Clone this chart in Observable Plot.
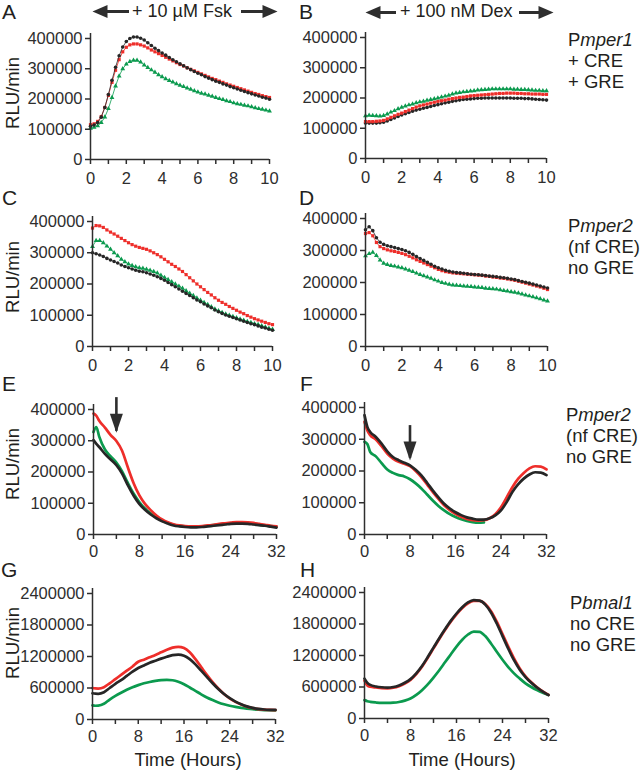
<!DOCTYPE html>
<html><head><meta charset="utf-8">
<script src="https://cdn.jsdelivr.net/npm/d3@7"></script>
<script src="https://cdn.jsdelivr.net/npm/@observablehq/plot@0.6"></script>
<style>
body{margin:0;background:#fff;}
#fig{position:relative;width:640px;height:770px;overflow:hidden;font-family:"Liberation Sans",Arial,Helvetica,sans-serif;color:#231f20;background:#fff;}
.t{position:absolute;white-space:nowrap;line-height:1;z-index:2;}
</style></head><body><div id="fig"></div>
<script>
// ---------- time axes (hours) ----------
const tShort = [0,0.2,0.4,0.6,0.8,1,1.2,1.4,1.6,1.8,2,2.2,2.4,2.6,2.8,3,3.2,3.4,3.6,3.8,4,4.2,4.4,4.6,4.8,5,5.2,5.4,5.6,5.8,6,6.2,6.4,6.6,6.8,7,7.2,7.4,7.6,7.8,8,8.2,8.4,8.6,8.8,9,9.2,9.4,9.6,9.8,10];
const tLong = [0,0.5,1,2,3,4,5,6,7,8,9,10,11,12,13,14,15,16,17,18,19,20,21,22,23,24,25,26,27,28,29,30,31,32];

// ---------- tick values ----------
const xTicks10 = [0,1,2,3,4,5,6,7,8,9,10];
const xTicks32 = [0,4,8,12,16,20,24,28,32];
const yTicks400k = [0,100000,200000,300000,400000];
const yTicks2400k = [0,600000,1200000,1800000,2400000];

// ---------- series values (thousand RLU/min) ----------
// Panel A: Pmper1, + Fsk
const A_black = [110,114,122,140,172,215,262,305,343,372,390,400,405,405,401,395,386,377,368,360,352,345,337,330,323,316,310,303,297,291,285,280,274,269,264,259,255,250,246,241,237,233,229,225,221,217,213,210,206,203,199];
const A_red   = [115,118,126,142,172,212,255,295,330,356,371,379,382,382,379,375,369,362,356,350,344,338,332,326,320,314,309,303,298,293,288,283,278,273,268,264,259,255,250,246,242,238,234,230,226,222,218,215,211,208,205];
const A_green = [103,106,111,122,140,168,205,243,276,300,315,324,328,328,322,312,304,296,288,280,273,267,261,256,250,245,241,236,232,227,223,219,216,212,209,205,201,198,194,191,187,184,182,179,177,174,171,168,166,163,160];
// Panel B: Pmper1, + Dex
const B_black = [117,117,117,117,118,120,124,129,134,139,144,148,152,156,160,163,166,169,172,175,178,181,184,186,189,191,193,195,196,197,198,199,199,200,200,200,200,200,200,200,200,199,199,199,198,198,197,196,195,194,193];
const B_red   = [122,122,122,123,124,126,131,136,141,146,150,155,160,165,170,174,177,180,183,186,189,191,193,196,198,200,202,203,205,207,208,209,210,211,212,213,214,215,215,216,216,216,215,215,214,214,213,213,213,212,212];
const B_green = [141,143,142,141,140,142,147,153,158,164,169,173,177,180,184,187,189,192,195,197,200,203,206,209,213,216,218,220,221,223,224,226,227,228,229,230,230,230,230,230,230,229,229,228,228,227,226,225,225,224,224];
// Panel C: Pmper2, + Fsk
const C_black = [300,297,293,288,282,277,272,267,261,256,252,248,244,241,239,236,232,228,223,218,212,205,198,191,184,177,170,163,156,149,143,136,130,124,117,111,106,101,97,93,89,85,81,77,73,70,66,62,59,55,52];
const C_red   = [379,387,386,381,373,366,360,353,346,339,332,326,321,317,314,311,306,300,294,287,279,271,263,256,248,240,230,220,210,200,191,182,173,165,156,148,141,135,128,122,116,110,105,99,94,89,85,81,77,73,70];
const C_green = [320,339,339,332,321,311,300,290,279,271,264,259,255,252,250,247,244,240,235,228,221,214,207,200,193,186,178,170,163,155,148,141,134,127,120,114,109,104,100,96,92,88,84,80,77,73,70,66,62,58,55];
// Panel D: Pmper2, + Dex
const D_black = [365,374,362,340,326,319,315,312,309,306,303,299,294,288,281,275,269,263,257,251,246,242,238,235,233,231,230,229,227,226,225,224,223,222,220,219,218,216,215,213,211,209,206,203,201,198,195,192,189,186,183];
const D_red   = [353,356,346,325,312,306,302,299,297,294,291,287,282,277,271,266,261,256,251,246,241,237,234,232,230,229,228,227,226,225,224,223,222,220,219,217,216,214,213,211,209,207,204,201,198,195,192,189,186,182,178];
const D_green = [283,290,294,284,270,260,256,253,251,248,246,242,238,234,229,225,221,217,213,208,204,200,197,194,192,191,190,189,188,187,186,185,184,182,181,180,179,177,175,173,171,169,167,164,161,158,155,152,149,145,142];
// Panel E: Pmper2, + Fsk, 32 h
const E_black = [302,290,280,258,240,222,195,158,125,98,79,64,52,42,35,29,26,24,23,23,24,26,28,30,32,34,35,35,34,32,30,28,25,22];
const E_red   = [387,380,364,342,318,299,268,215,165,126,98,78,61,48,39,33,29,27,26,26,27,29,31,34,36,38,40,40,39,37,34,31,28,26];
const E_green = [328,344,313,272,250,230,202,165,131,104,83,68,56,45,37,31,28,26,25,25,26,28,30,32,34,36,37,37,36,34,31,29,27,25];
// Panel F: Pmper2, + Dex, 32 h
const F_black = [376,339,323,307,286,262,244,234,226,218,204,186,163,139,117,97,82,70,61,54,50,47,47,51,60,76,102,134,158,176,189,196,195,187];
const F_red   = [355,328,313,299,278,255,239,229,223,215,200,181,158,134,112,92,77,65,56,49,45,44,45,51,64,86,117,149,175,194,208,215,214,205];
const F_green = [292,285,260,246,225,205,194,187,183,174,161,145,126,107,90,76,64,55,48,43,39,37,38];
// Panel G: Pbmal1, + Fsk
const G_black = [500,492,490,520,600,680,750,830,910,980,1030,1080,1120,1160,1195,1225,1235,1215,1150,1050,930,810,690,580,485,405,340,290,250,222,202,190,184,182];
const G_red   = [600,592,590,615,690,770,850,930,1010,1100,1140,1185,1230,1280,1330,1370,1385,1360,1280,1150,1000,850,710,590,485,400,335,285,245,218,198,187,182,180];
const G_green = [270,262,265,300,380,450,510,565,615,655,690,715,735,750,755,748,720,672,610,545,480,420,370,325,290,262,240,222,208,196,187,180,176,175];
// Panel H: Pbmal1, + Dex
const H_black = [760,680,640,610,595,590,600,630,680,750,860,1000,1170,1350,1530,1700,1860,2000,2120,2210,2255,2245,2170,2020,1810,1570,1330,1110,930,790,680,590,510,445];
const H_red   = [720,630,605,590,578,575,585,615,665,735,845,985,1155,1335,1515,1685,1845,1985,2105,2195,2240,2240,2180,2045,1845,1610,1370,1145,955,805,690,595,515,450];
const H_green = [350,330,318,305,298,298,302,315,340,380,450,540,650,780,920,1070,1220,1370,1500,1600,1655,1650,1570,1430,1270,1120,980,860,760,670,600,540,490,450];

// ---------- text ----------
const panelLetters = ["A","B","C","D","E","F","G","H"];
const treatments = ["+ 10 \u00B5M Fsk", "+ 100 nM Dex"];
const rowLabels = [
  ["P<i>mper1</i>", "+ CRE", "+ GRE"],
  ["P<i>mper2</i>", "(nf CRE)", "no GRE"],
  ["P<i>mper2</i>", "(nf CRE)", "no GRE"],
  ["P<i>bmal1</i>", "no CRE", "no GRE"]
];
const yLabel = "RLU/min";
const xLabel = "Time (Hours)";
// annotation arrows (hour, top value, tip value)
const arrowE = [{x: 4, y1: 438000, y2: 330000, tip: 326000}];
const arrowF = [{x: 8, y1: 343000, y2: 240000, tip: 233000}];

// ---------- styling ----------
const fig = document.getElementById("fig");
const FONT = '"Liberation Sans", Arial, Helvetica, sans-serif';
const AX = "#2e2e2e";
const TICKFS = 16.5;
const COL = {green: "#0b9a4e", red: "#ee2e2a", black: "#262626"};
const SYM = {green: "triangle", red: "square", black: "circle"};
const headDown = {draw(c){c.moveTo(0,0);c.lineTo(-6.5,-19);c.lineTo(6.5,-19);c.closePath();}};
const headLeft = {draw(c){c.moveTo(0,0);c.lineTo(15,-6.5);c.lineTo(15,6.5);c.closePath();}};
const headRight = {draw(c){c.moveTo(0,0);c.lineTo(-15,-6.5);c.lineTo(-15,6.5);c.closePath();}};

function rows(t, v) { return v.map((val, i) => ({t: t[i], v: val * 1000})); }

function panel(p) {
  const ext = 5;
  const yTop = p.yTicks[p.yTicks.length - 1];
  const yMaxExt = yTop * (p.py0 - p.pyTop + ext) / (p.py0 - p.pyTop);
  const xMax = p.xTicks[p.xTicks.length - 1];
  const marks = [];
  for (const s of p.series) {
    const d = rows(s.t, s.v), c = COL[s.c];
    if (p.dotted) {
      marks.push(Plot.line(d, {x: "t", y: "v", stroke: c, strokeWidth: 0.8}));
      marks.push(Plot.dot(d, {x: "t", y: "v", symbol: SYM[s.c], r: 1.8, fill: c, stroke: "none"}));
    } else {
      marks.push(Plot.line(d, {x: "t", y: "v", stroke: c, strokeWidth: 2.7, curve: "monotone-x"}));
    }
  }
  marks.push(Plot.ruleY([0], {x1: 0, x2: xMax, stroke: AX, strokeWidth: 1.5}));
  marks.push(Plot.ruleX([0], {y1: 0, y2: yMaxExt, stroke: AX, strokeWidth: 1.5}));
  marks.push(Plot.axisX({ticks: p.xTicks, tickSize: 5, tickPadding: p.padX, tickFormat: d => (d % p.xLab === 0 ? String(d) : ""), fontSize: TICKFS, label: null, color: AX, strokeWidth: 1.5}));
  marks.push(Plot.axisY({ticks: p.yTicks, tickSize: 5, tickPadding: 3, tickFormat: d => String(d), fontSize: TICKFS, label: null, color: AX, strokeWidth: 1.5}));
  if (p.arrow) {
    marks.push(Plot.ruleX(p.arrow, {x: "x", y1: "y1", y2: "y2", stroke: AX, strokeWidth: 2.6}));
    marks.push(Plot.dot(p.arrow, {x: "x", y: "tip", symbol: headDown, r: 5, fill: AX, stroke: "none"}));
  }
  const svg = Plot.plot({
    width: p.w, height: p.h,
    marginLeft: p.px0 - p.left, marginRight: p.left + p.w - p.px1,
    marginTop: p.pyTop - ext - p.top, marginBottom: p.top + p.h - p.py0,
    x: {domain: [0, xMax]}, y: {domain: [0, yMaxExt]},
    style: {background: "transparent", fontFamily: FONT, fontSize: TICKFS + "px", color: "#231f20", overflow: "visible"},
    marks
  });
  svg.style.position = "absolute";
  svg.style.left = p.left + "px";
  svg.style.top = p.top + "px";
  fig.appendChild(svg);
}

const S = (c, t, v) => ({c, t, v});
panel({left: 0, top: 25, w: 290, h: 170, px0: 90, px1: 269, py0: 159, pyTop: 38, xTicks: xTicks10, xLab: 2, padX: 8, yTicks: yTicks400k, dotted: true,
  series: [S("green", tShort, A_green), S("red", tShort, A_red), S("black", tShort, A_black)]});
panel({left: 295, top: 25, w: 265, h: 170, px0: 365, px1: 546, py0: 158, pyTop: 37, xTicks: xTicks10, xLab: 2, padX: 8, yTicks: yTicks400k, dotted: true,
  series: [S("black", tShort, B_black), S("red", tShort, B_red), S("green", tShort, B_green)]});
panel({left: 0, top: 210, w: 290, h: 170, px0: 92, px1: 272, py0: 346, pyTop: 221, xTicks: xTicks10, xLab: 2, padX: 8, yTicks: yTicks400k, dotted: true,
  series: [S("green", tShort, C_green), S("red", tShort, C_red), S("black", tShort, C_black)]});
panel({left: 295, top: 210, w: 265, h: 170, px0: 365, px1: 547, py0: 346, pyTop: 218, xTicks: xTicks10, xLab: 2, padX: 8, yTicks: yTicks400k, dotted: true,
  series: [S("green", tShort, D_green), S("red", tShort, D_red), S("black", tShort, D_black)]});
panel({left: 0, top: 395, w: 295, h: 170, px0: 93, px1: 276, py0: 534, pyTop: 409, xTicks: xTicks32, xLab: 8, padX: 6, yTicks: yTicks400k, arrow: arrowE,
  series: [S("green", tLong, E_green), S("red", tLong, E_red), S("black", tLong, E_black)]});
panel({left: 295, top: 395, w: 265, h: 170, px0: 364, px1: 546, py0: 534, pyTop: 407, xTicks: xTicks32, xLab: 8, padX: 6, yTicks: yTicks400k, arrow: arrowF,
  series: [S("green", tLong, F_green), S("red", tLong, F_red), S("black", tLong, F_black)]});
panel({left: 0, top: 578, w: 295, h: 172, px0: 92, px1: 275, py0: 719, pyTop: 593, xTicks: xTicks32, xLab: 8, padX: 6, yTicks: yTicks2400k,
  series: [S("green", tLong, G_green), S("red", tLong, G_red), S("black", tLong, G_black)]});
panel({left: 295, top: 578, w: 265, h: 172, px0: 364, px1: 548, py0: 718, pyTop: 592, xTicks: xTicks32, xLab: 8, padX: 6, yTicks: yTicks2400k,
  series: [S("green", tLong, H_green), S("red", tLong, H_red), S("black", tLong, H_black)]});

// header arrows (pixel space)
const hdrShafts = [{x1: 100, x2: 129, y: 11}, {x1: 241, x2: 266, y: 11}, {x1: 374, x2: 396, y: 12}, {x1: 519, x2: 542, y: 12}];
const hdrLeft = [{x: 92, y: 11}, {x: 365, y: 12}];
const hdrRight = [{x: 277, y: 11}, {x: 553, y: 12}];
const hdr = Plot.plot({
  width: 640, height: 25, margin: 0,
  x: {domain: [0, 640], range: [0, 640], axis: null},
  y: {domain: [0, 25], range: [0, 25], axis: null},
  style: {background: "transparent", overflow: "visible"},
  marks: [
    Plot.ruleY(hdrShafts, {y: "y", x1: "x1", x2: "x2", stroke: AX, strokeWidth: 3}),
    Plot.dot(hdrLeft, {x: "x", y: "y", symbol: headLeft, r: 5, fill: AX, stroke: "none"}),
    Plot.dot(hdrRight, {x: "x", y: "y", symbol: headRight, r: 5, fill: AX, stroke: "none"})
  ]
});
hdr.style.position = "absolute"; hdr.style.left = "0px"; hdr.style.top = "0px";
fig.appendChild(hdr);

// ---------- HTML text ----------
function addText(html, x, baseline, fs, anchor) {
  const d = document.createElement("div");
  d.className = "t";
  d.innerHTML = html;
  d.style.fontSize = fs + "px";
  d.style.left = x + "px";
  d.style.top = (baseline - 0.8465 * fs) + "px";
  if (anchor === "middle") d.style.transform = "translateX(-50%)";
  fig.appendChild(d);
}
const letterPos = [[2,19],[299,19],[2,205],[299,205],[2,391],[300,391],[1,577],[300,577]];
panelLetters.forEach((L, i) => addText(L, letterPos[i][0], letterPos[i][1], 21));
addText(treatments[0], 132, 17, 18);
addText(treatments[1], 400, 17, 18);
const rowLabelPos = [[568, 47], [568, 233], [566, 422], [570, 610]];
rowLabels.forEach((lines, r) => lines.forEach((s, k) => addText(s, rowLabelPos[r][0], rowLabelPos[r][1] + k * 20.7, 18.5)));
[93, 277, 464, 643].forEach(cy => {
  const d = document.createElement("div");
  d.className = "t";
  d.textContent = yLabel;
  d.style.fontSize = "18.5px";
  d.style.left = "12.5px";
  d.style.top = cy + "px";
  d.style.transform = "translate(-50%,-50%) rotate(-90deg)";
  fig.appendChild(d);
});
addText(xLabel, 188, 767, 18.5, "middle");
addText(xLabel, 462, 767, 18.5, "middle");
</script></body></html>
